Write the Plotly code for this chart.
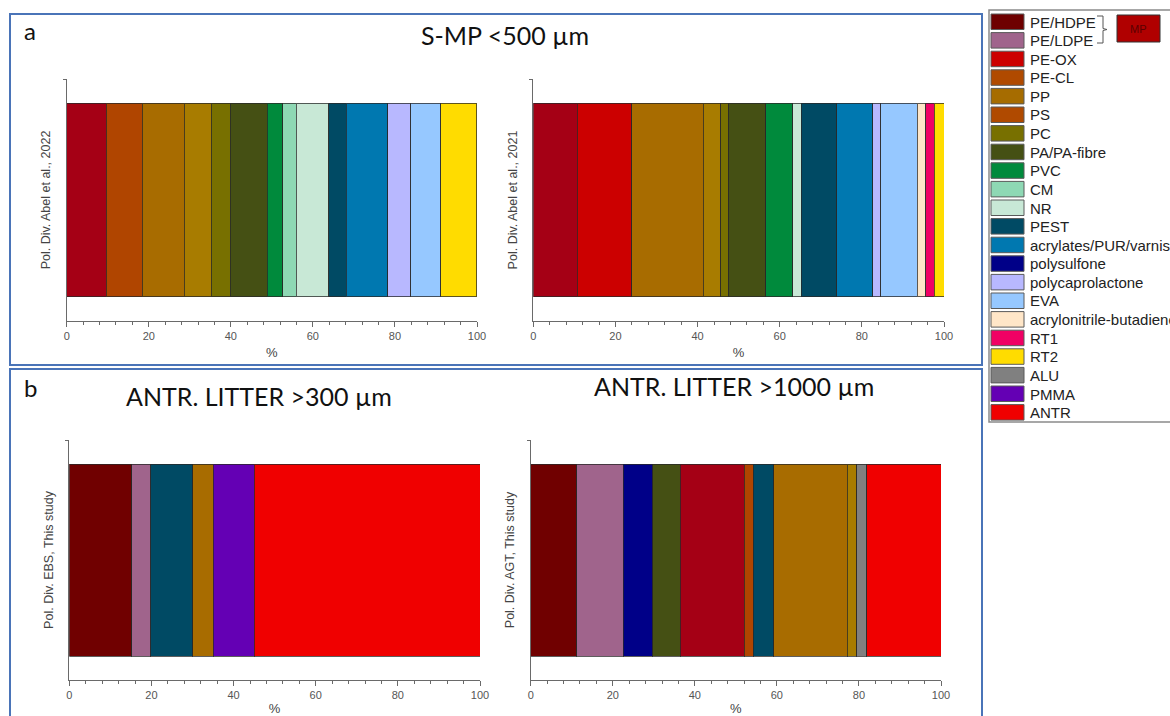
import plotly.graph_objects as go

W, H = 1170, 716

# ---------------- data ----------------
a_left_names = ["MP", "PE-CL", "PP", "PS", "PC", "PA/PA-fibre", "PVC", "CM", "NR", "PEST",
                "acrylates/PUR/varnish", "polycaprolactone", "EVA", "RT2"]
a_left_vals = [9.6, 8.8, 10.3, 6.5, 4.7, 9.0, 3.8, 3.3, 7.9, 4.2, 10.2, 5.5, 7.4, 8.8]
a_left_cols = ["#A50015", "#B04500", "#A86C00", "#A87C00", "#787000", "#455014", "#008A3C",
               "#8ED8B4", "#C8E8D6", "#004A64", "#0078B0", "#B8B8FF", "#96C8FF", "#FFDC00"]

a_right_names = ["MP", "PE-OX", "PP", "PS", "PC", "PA/PA-fibre", "PVC", "NR", "PEST",
                 "acrylates/PUR/varnish", "polycaprolactone", "EVA", "acrylonitrile-butadiene",
                 "RT1", "RT2"]
a_right_vals = [10.7, 13.3, 17.4, 4.3, 1.9, 9.0, 6.6, 2.0, 8.7, 8.7, 2.0, 8.9, 2.1, 2.0, 2.4]
a_right_cols = ["#A50015", "#CC0000", "#A86C00", "#A87C00", "#787000", "#455014", "#008A3C",
                "#C8E8D6", "#004A64", "#0078B0", "#B8B8FF", "#96C8FF", "#FFE6C8", "#F00064",
                "#FFDC00"]

b_left_names = ["PE/HDPE", "PE/LDPE", "PEST", "PP", "PMMA", "ANTR"]
b_left_vals = [15.2, 4.6, 10.2, 5.0, 10.0, 55.0]
b_left_cols = ["#700000", "#A0648C", "#004A64", "#A86C00", "#6400B4", "#F00000"]

b_right_names = ["PE/HDPE", "PE/LDPE", "polysulfone", "PA/PA-fibre", "MP", "PE-CL", "PEST",
                 "PP", "PS", "ALU", "ANTR"]
b_right_vals = [11.2, 11.4, 7.1, 6.7, 15.7, 2.2, 4.9, 18.0, 2.3, 2.4, 18.1]
b_right_cols = ["#700000", "#A0648C", "#000088", "#455014", "#A50015", "#B04500", "#004A64",
                "#A86C00", "#A87C00", "#808080", "#F00000"]

legend_names = ["PE/HDPE", "PE/LDPE", "PE-OX", "PE-CL", "PP", "PS", "PC", "PA/PA-fibre", "PVC",
                "CM", "NR", "PEST", "acrylates/PUR/varnish", "polysulfone", "polycaprolactone",
                "EVA", "acrylonitrile-butadiene", "RT1", "RT2", "ALU", "PMMA", "ANTR"]
legend_cols = ["#6E0000", "#A0648C", "#CC0000", "#B04A00", "#A66C00", "#B04A00", "#787000",
               "#455014", "#008A3C", "#8ED8B4", "#C8E8D6", "#004A64", "#0078B0", "#000088",
               "#B8B8FF", "#96C8FF", "#FFE6C8", "#F00064", "#FFDC00", "#808080", "#6400B4",
               "#F00000"]

y_titles = ["Pol. Div. Abel et al., 2022", "Pol. Div. Abel et al., 2021",
            "Pol. Div. EBS, This study", "Pol. Div. AGT, This study"]
x_ticks = [0, 20, 40, 60, 80, 100]

# ---------------- helpers ----------------
def px(x):
    return x / W

def py(y):
    return 1 - y / H

panels = [
    (a_left_names, a_left_vals, a_left_cols, (66.7, 477.0), (79, 321), 6),
    (a_right_names, a_right_vals, a_right_cols, (533.3, 944.0), (79, 321), 6),
    (b_left_names, b_left_vals, b_left_cols, (69.3, 480.0), (440, 680), 3),
    (b_right_names, b_right_vals, b_right_cols, (530.7, 941.0), (440, 680), 3),
]

fig = go.Figure()
layout = dict(width=W, height=H, margin=dict(l=0, r=0, t=0, b=0, autoexpand=False),
              paper_bgcolor="white", plot_bgcolor="white", barmode="stack",
              showlegend=False, font=dict(family="Liberation Sans, Arial", color="#333"))

axis_col = "#6A6A6A"
for i, (names, vals, cols, (x0, x1), (ytop, ybot), sto) in enumerate(panels):
    k = "" if i == 0 else str(i + 1)
    for n, v, c in zip(names, vals, cols):
        fig.add_trace(go.Bar(x=[v], y=[0], orientation="h", name=n, width=0.8,
                             marker=dict(color=c, line=dict(color="rgba(40,40,40,0.75)", width=1)),
                             xaxis="x" + k, yaxis="y" + k, hoverinfo="name+x"))
    layout["xaxis" + k] = dict(domain=[px(x0), px(x1)], range=[0, 100], anchor="y" + k,
                               tickvals=x_ticks, ticks="outside", ticklen=5, tickcolor=axis_col,
                               showline=True, linecolor=axis_col, linewidth=1,
                               showgrid=False, zeroline=False, automargin=False,
                               minor=dict(dtick=4, ticks="outside", ticklen=3, tickcolor=axis_col),
                               tickfont=dict(size=11, color="#555"),
                               title=dict(text="%", font=dict(size=13, color="#444"), standoff=sto))
    layout["yaxis" + k] = dict(domain=[py(ybot), py(ytop)], range=[-0.5, 0.5], anchor="x" + k,
                               tickvals=[0.5], ticktext=[""], ticks="outside", ticklen=3,
                               tickcolor=axis_col, showline=True, linecolor=axis_col,
                               linewidth=1, showgrid=False, zeroline=False, automargin=False,
                               title=dict(text=y_titles[i], font=dict(size=12.5, color="#444"),
                                          standoff=6))

shapes = []
annotations = []
frame_col = "#4A74B8"
shapes.append(dict(type="rect", xref="paper", yref="paper", x0=px(10), x1=px(982),
                   y0=py(365), y1=py(14), line=dict(color=frame_col, width=2)))
shapes.append(dict(type="rect", xref="paper", yref="paper", x0=px(10), x1=px(982),
                   y0=py(722), y1=py(369), line=dict(color=frame_col, width=2)))

# legend box
shapes.append(dict(type="rect", xref="paper", yref="paper", x0=px(989), x1=px(1180),
                   y0=py(422), y1=py(10), line=dict(color="#8A8A8A", width=1.5),
                   fillcolor="white", layer="below"))
pitch = 18.6
for j, (n, c) in enumerate(zip(legend_names, legend_cols)):
    top = 14 + j * pitch
    shapes.append(dict(type="rect", xref="paper", yref="paper", x0=px(991), x1=px(1024),
                       y0=py(top + 15.5), y1=py(top), fillcolor=c,
                       line=dict(color="#5a5a5a", width=1)))
    annotations.append(dict(text=n, x=px(1028), y=py(top + 8), xref="paper", yref="paper",
                            xanchor="left", yanchor="middle", showarrow=False,
                            font=dict(size=15, color="#222", family="Liberation Sans, Arial")))

# bracket and MP box
bx0, bx1 = 1097, 1103
path = ("M {a},{b} L {c},{b} L {c},{m1} L {d},{m} L {c},{m2} L {c},{e} L {a},{e}").format(
    a=px(bx0), c=px(bx1), d=px(bx1 + 4), b=py(16), e=py(43), m1=py(28.5), m=py(29.5), m2=py(30.5))
shapes.append(dict(type="path", xref="paper", yref="paper", path=path,
                   line=dict(color="#555", width=1)))
shapes.append(dict(type="rect", xref="paper", yref="paper", x0=px(1117), x1=px(1160),
                   y0=py(42), y1=py(15), fillcolor="#B00000", line=dict(color="#333", width=1)))
annotations.append(dict(text="MP", x=px(1138.5), y=py(28.5), xref="paper", yref="paper",
                        xanchor="center", yanchor="middle",
                        showarrow=False, font=dict(size=11, color="#5a0000")))

title_font = "Lato, Open Sans"
def title_ann(text, x, y, anchor="center", size=25):
    return dict(text=text, x=px(x), y=py(y), xref="paper", yref="paper", xanchor=anchor,
                yanchor="middle", showarrow=False,
                font=dict(size=size, color="#111", family=title_font))

annotations += [
    title_ann("a", 22, 30, "left", 24),
    title_ann("b", 22, 387, "left", 24),
    title_ann("S-MP <500 µm", 505, 35),
    title_ann("ANTR. LITTER >300 µm", 259, 396),
    title_ann("ANTR. LITTER >1000 µm", 734, 386),
]

layout["shapes"] = shapes
layout["annotations"] = annotations
fig.update_layout(**layout)
fig.write_html("out.html",
               config={"displayModeBar": False},
               post_script="document.body.style.margin='0';"
                           "document.documentElement.style.overflow='hidden';"
                           "document.body.style.overflow='hidden';")
